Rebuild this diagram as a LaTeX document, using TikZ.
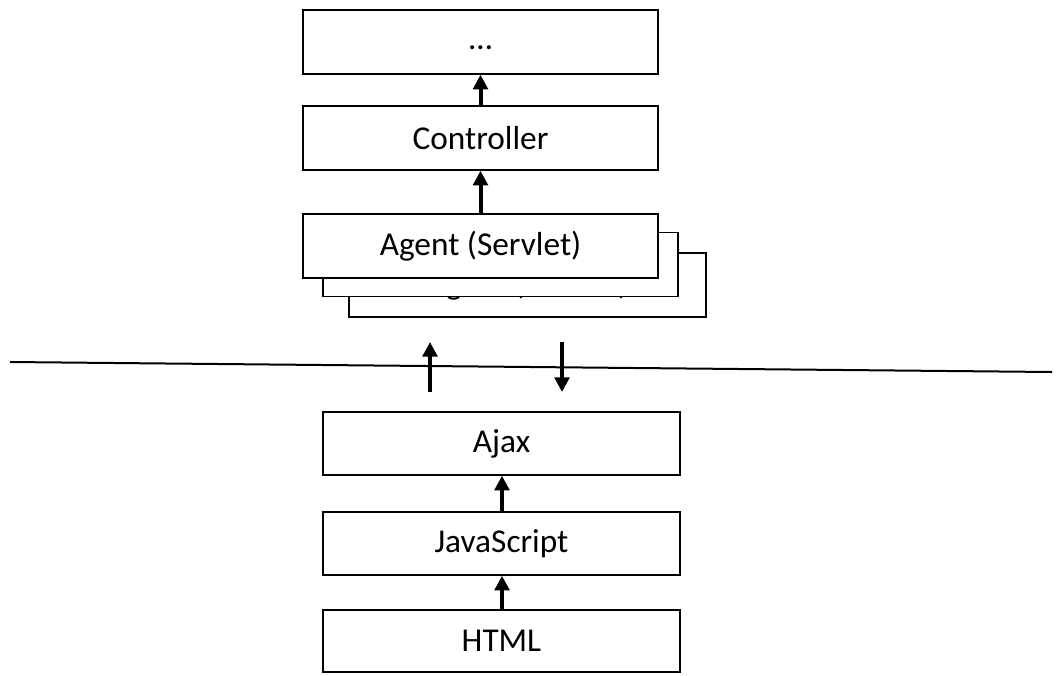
\documentclass[tikz,border=0pt]{standalone}
\usepackage{fontspec}
\setmainfont{Carlito}
\usetikzlibrary{arrows.meta}
\begin{document}
\begin{tikzpicture}[x=0.75pt,y=-0.75pt,
  box/.style={draw=black,fill=white,line width=1.1pt,minimum width=266.25pt,minimum height=48pt,inner sep=0pt,font=\fontsize{25}{30}\selectfont},
  uparrow/.style={line width=3pt,-{Triangle[length=11pt,width=11pt]}},
  sep/.style={line width=1.5pt}]
\useasboundingbox (0,0) rectangle (1062,675);
\node[box,minimum width=267.75pt] (ag3) at (527.5,285) {Agent (Servlet)};
\node[box] (ag2) at (500.5,264.5) {Agent (Servlet)};
\node[box] (ag1) at (480.5,246) {Agent (Servlet)};
\node[box] (dots) at (480.5,42) {\vphantom{Ag}…};
\node[box] (ctrl) at (480.5,138) {Controller};
\node[box,minimum width=267.75pt,minimum height=47.25pt] (ajax) at (501.5,443.5) {Ajax};
\node[box,minimum width=267.75pt,minimum height=47.25pt] (js) at (501.5,543.5) {JavaScript};
\node[box,minimum width=267.75pt,minimum height=46.5pt] (html) at (501.5,641) {HTML};
\draw[uparrow] (ctrl.north) -- (dots.south);
\draw[uparrow] (ag1.north) -- (ctrl.south);
\draw[uparrow] (js.north -| 502,0) -- (ajax.south -| 502,0);
\draw[uparrow] (html.north -| 502,0) -- (js.south -| 502,0);
\coordinate (sepL) at (10,362);
\coordinate (sepR) at (1052,372);
\draw[sep] (sepL) -- (sepR);
\coordinate (upA) at (430,392);
\coordinate (upB) at (430,342);
\coordinate (dnA) at (562,342);
\coordinate (dnB) at (562,392);
\draw[uparrow] (upA) -- (upB);
\draw[uparrow] (dnA) -- (dnB);
\end{tikzpicture}
\end{document}
